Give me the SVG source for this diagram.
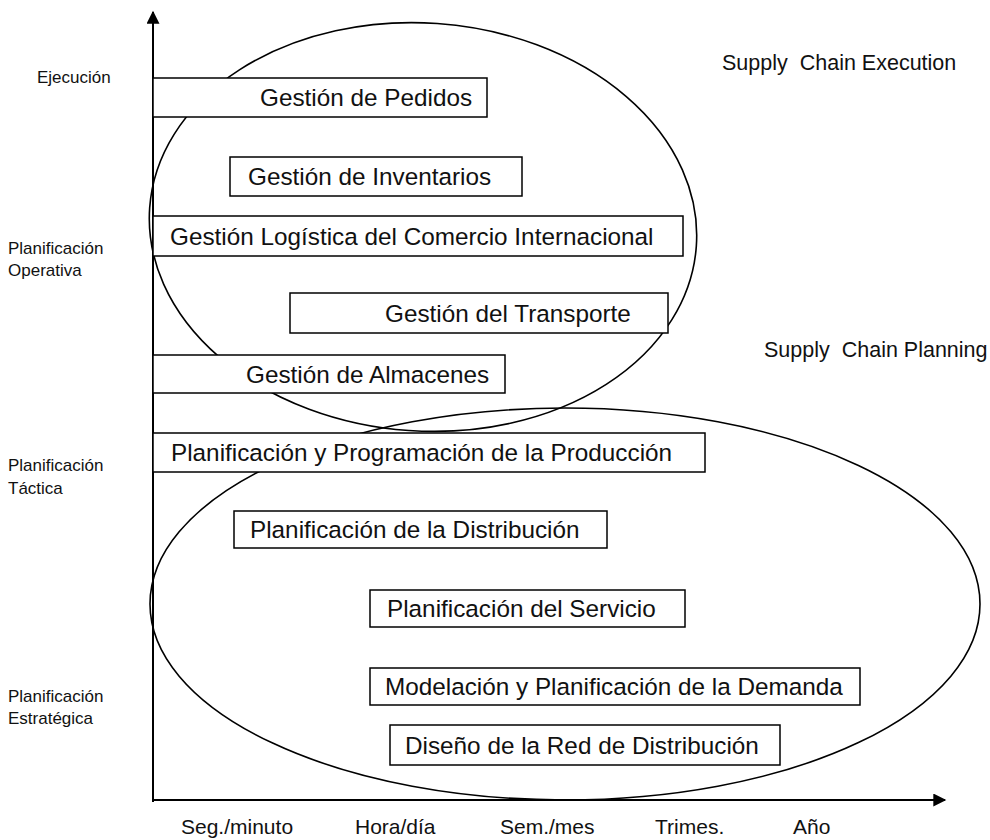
<svg xmlns="http://www.w3.org/2000/svg" width="990" height="840" viewBox="0 0 990 840">
  <style>
    .box rect { fill: #ffffff; stroke: #000000; stroke-width: 1.5; }
    .box text { font-family: "Liberation Sans", Arial, sans-serif; font-size: 24.3px; fill: #111111; }
    .zone { fill: none; stroke: #000000; stroke-width: 1.6; }
    .axis { stroke: #000000; stroke-width: 2; fill: none; }
    .lvl { font-family: "Liberation Sans", Arial, sans-serif; font-size: 17px; fill: #111111; }
    .tick { font-family: "Liberation Sans", Arial, sans-serif; font-size: 21px; fill: #111111; }
    .area { font-family: "Liberation Sans", Arial, sans-serif; font-size: 21.5px; fill: #111111; white-space: pre; }
  </style>
  <defs>
    <marker id="arrow" viewBox="0 0 10 10" refX="9" refY="5" markerWidth="7" markerHeight="6.5" orient="auto" markerUnits="strokeWidth">
      <path d="M0,0 L10,5 L0,10 z" fill="#000000"/>
    </marker>
  </defs>
  <rect width="990" height="840" fill="#ffffff"/>

  <!-- execution / planning zones -->
  <g id="zones">
    <ellipse class="zone" cx="423" cy="227" rx="274" ry="204" transform="rotate(4 423 227)"/>
    <ellipse class="zone" cx="565" cy="604" rx="415" ry="196"/>
  </g>

  <!-- axes -->
  <g id="connectors">
    <line class="axis" x1="153" y1="802" x2="153" y2="12" marker-end="url(#arrow)"/>
    <line class="axis" x1="153" y1="800" x2="945" y2="800" marker-end="url(#arrow)"/>
  </g>

  <!-- planning level labels -->
  <g id="levels">
    <text class="lvl" x="37" y="83">Ejecución</text>
    <text class="lvl" x="8" y="254">Planificación</text>
    <text class="lvl" x="8" y="276">Operativa</text>
    <text class="lvl" x="8" y="471">Planificación</text>
    <text class="lvl" x="8" y="494">Táctica</text>
    <text class="lvl" x="8" y="702">Planificación</text>
    <text class="lvl" x="8" y="724">Estratégica</text>
  </g>

  <!-- horizon labels -->
  <g id="horizons">
    <text class="tick" x="181" y="834">Seg./minuto</text>
    <text class="tick" x="355" y="834">Hora/día</text>
    <text class="tick" x="500" y="834">Sem./mes</text>
    <text class="tick" x="655" y="834">Trimes.</text>
    <text class="tick" x="793" y="834">Año</text>
  </g>

  <g id="area-labels">
    <text class="area" x="722" y="70">Supply  Chain Execution</text>
    <text class="area" x="764" y="357">Supply  Chain Planning</text>
  </g>

  <!-- activities -->
  <g id="pedidos" class="box">
    <rect x="153" y="78" width="334" height="39"/>
    <text x="260" y="106">Gestión de Pedidos</text>
  </g>
  <g id="inventarios" class="box">
    <rect x="230" y="157" width="292" height="39"/>
    <text x="248" y="185">Gestión de Inventarios</text>
  </g>
  <g id="comercio" class="box">
    <rect x="153" y="216" width="530" height="40"/>
    <text x="170" y="245">Gestión Logística del Comercio Internacional</text>
  </g>
  <g id="transporte" class="box">
    <rect x="290" y="293" width="378" height="40"/>
    <text x="385" y="322">Gestión del Transporte</text>
  </g>
  <g id="almacenes" class="box">
    <rect x="153" y="355" width="352" height="38"/>
    <text x="246" y="383">Gestión de Almacenes</text>
  </g>
  <g id="produccion" class="box">
    <rect x="153" y="433" width="552" height="39"/>
    <text x="171" y="461">Planificación y Programación de la Producción</text>
  </g>
  <g id="distribucion" class="box">
    <rect x="234" y="511" width="373" height="37"/>
    <text x="250" y="538">Planificación de la Distribución</text>
  </g>
  <g id="servicio" class="box">
    <rect x="370" y="590" width="315" height="37"/>
    <text x="387" y="617">Planificación del Servicio</text>
  </g>
  <g id="demanda" class="box">
    <rect x="370" y="668" width="490" height="37"/>
    <text x="385" y="695">Modelación y Planificación de la Demanda</text>
  </g>
  <g id="red" class="box">
    <rect x="390" y="725" width="390" height="40"/>
    <text x="405" y="754">Diseño de la Red de Distribución</text>
  </g>
</svg>
